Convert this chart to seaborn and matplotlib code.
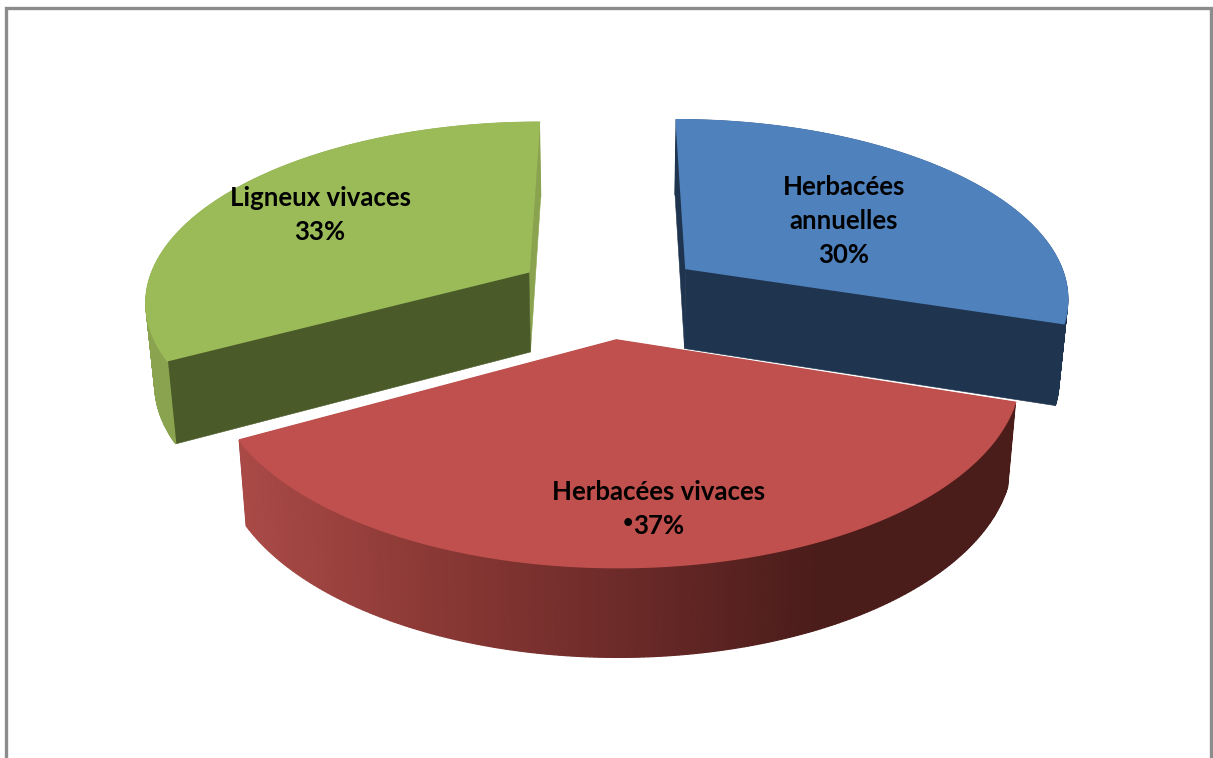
import numpy as np
import matplotlib
matplotlib.use("Agg")
import matplotlib.pyplot as plt
from matplotlib.colors import LinearSegmentedColormap
import seaborn as sns

# Data
categories = ["Herbacées\nannuelles", "Herbacées vivaces", "Ligneux vivaces"]
shares = [30, 37, 33]
label_anchor = [(844, 219), (659, 507), (320, 213)]

top_colors = sns.color_palette(["#4F81BD", "#C0504D", "#9BBB59"])
# Radial cut faces: first edge of each slice, then last edge (clockwise)
start_cut_colors = ["#1F344E", "#4A1C1A", "#4A5A28"]
end_cut_colors = ["#1F344E", "#4A1C1A", "#8AA34F"]
wall_maps = [
    LinearSegmentedColormap.from_list("blue_wall", ["#1F344E", "#1F344E"]),
    LinearSegmentedColormap.from_list(
        "red_wall", ["#4A1C1A", "#4A1C1A", "#6B2A28", "#8A3835", "#AA4A47"]),
    LinearSegmentedColormap.from_list("green_wall", ["#8AA34F", "#8AA34F"]),
]

# Projection of the tilted disc onto the figure
CX, CY = 610, 294
RX, RY = 384, 178
PERSPECTIVE = 0.15
EXPLODE = 0.25
DEPTH = 81
TAPER = 0.981
SLICE_NUDGE = [0, -3, 0]
LINE_STEP = 34


def project(X, Z):
    w = 1 + PERSPECTIVE * np.asarray(Z)
    return CX + RX * np.asarray(X) / w, CY - RY * np.asarray(Z) / w


def lower(X, Z):
    x, y = project(X, Z)
    w = 1 + PERSPECTIVE * np.asarray(Z)
    return CX + (x - CX) * TAPER, y + DEPTH / np.sqrt(w)


sns.set_theme(style="white")
fig, ax = plt.subplots(figsize=(12.13, 7.58), dpi=100)
fig.subplots_adjust(0, 0, 1, 1)
ax.set_xlim(0, 1213)
ax.set_ylim(758, 0)
ax.axis("off")

# Chart frame: the lower edge runs off the figure
ax.plot([6, 6, 1211, 1211], [770, 8, 8, 770], color="#8C8C8C", lw=2.4,
        solid_joinstyle="miter")

fractions = np.asarray(shares) / sum(shares)
edges = 90 - 360 * np.concatenate([[0], np.cumsum(fractions)])

for i in [2, 0, 1]:
    a0, a1 = edges[i], edges[i + 1]
    mid = np.radians((a0 + a1) / 2)
    ox, oz = EXPLODE * np.cos(mid), EXPLODE * np.sin(mid)
    theta = np.radians(np.linspace(a0, a1, 241))
    X = ox + np.cos(theta)
    Z = oz + np.sin(theta)

    ux, uy = project(X, Z)
    lx, ly = lower(X, Z)
    apex_x, apex_y = project(ox, oz)
    base_x, base_y = lower(ox, oz)
    nudge = SLICE_NUDGE[i]
    ux, lx, apex_x, base_x = ux + nudge, lx + nudge, apex_x + nudge, base_x + nudge

    # Radial cut faces
    ax.fill([apex_x, ux[-1], lx[-1], base_x], [apex_y, uy[-1], ly[-1], base_y],
            color=end_cut_colors[i], lw=0.4, zorder=2)
    ax.fill([apex_x, ux[0], lx[0], base_x], [apex_y, uy[0], ly[0], base_y],
            color=start_cut_colors[i], lw=0.4, zorder=2)

    # Outer wall, shaded along the arc
    span = max(ux.max() - ux.min(), 1)
    for j in range(len(theta) - 1):
        shade = wall_maps[i](1 - (0.5 * (ux[j] + ux[j + 1]) - ux.min()) / span)
        ax.fill([ux[j], ux[j + 1], lx[j + 1], lx[j]],
                [uy[j], uy[j + 1], ly[j + 1], ly[j]],
                color=shade, lw=0.9, zorder=3)

    # Top face, its edge hiding the wall behind the far arc
    ax.fill(np.r_[apex_x, ux], np.r_[apex_y, uy], color=top_colors[i], lw=1.2, zorder=4)

    # Label, one text per line
    lines = categories[i].split("\n") + [f"{shares[i]}%"]
    for k, line in enumerate(lines):
        ax.text(label_anchor[i][0],
                label_anchor[i][1] + (k - (len(lines) - 1) / 2) * LINE_STEP,
                line, ha="center", va="center_baseline", family="Lato", weight="bold",
                fontsize=18.5, color="black", zorder=5)

# Stray bullet in front of the largest share
ax.text(633, 522, "•", ha="right", va="center", family="Lato", weight="bold",
        fontsize=13, color="black", zorder=5)

fig.savefig("out.png", dpi=100, facecolor="white")
